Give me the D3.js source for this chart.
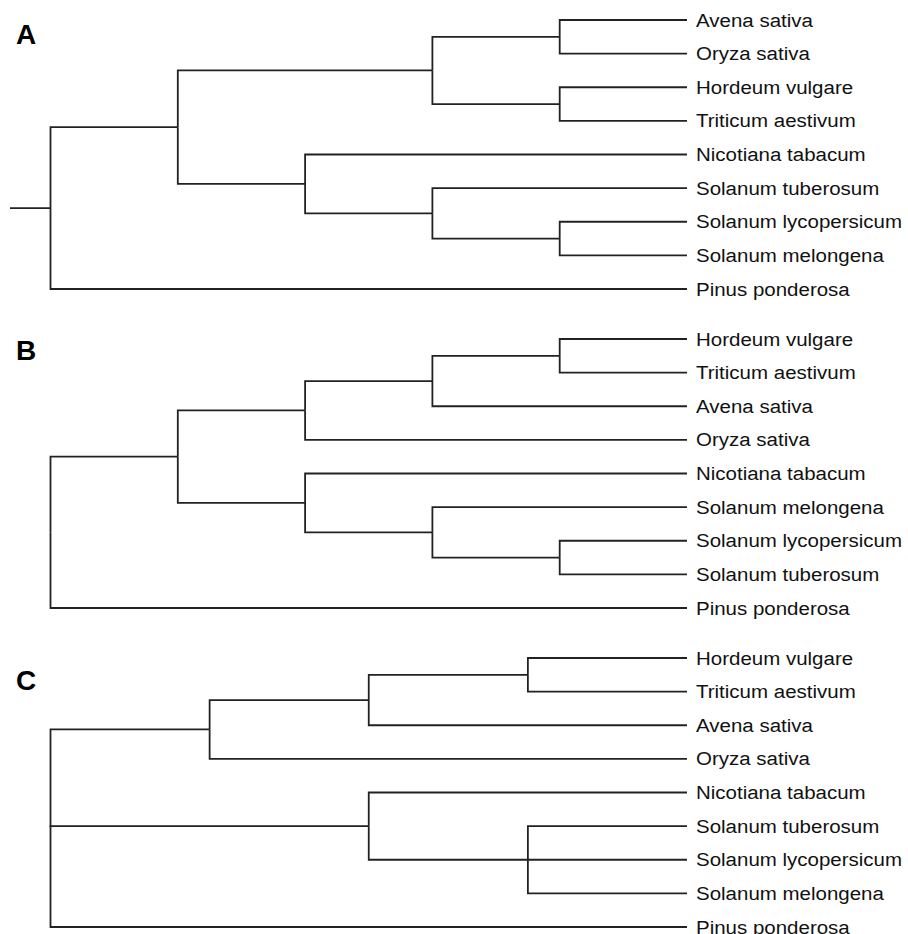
<!DOCTYPE html>
<html>
<head>
<meta charset="utf-8">
<script src="https://cdn.jsdelivr.net/npm/d3@7"></script>
<style>
  html, body { margin: 0; padding: 0; background: #fff; }
  svg { display: block; }
</style>
</head>
<body>
<svg id="chart" width="908" height="934"></svg>
<script>
// ---- Data: three cladograms (nested arrays = clades) ----
const panelLabels = ["A", "B", "C"];

const treeA = [
  [
    [["Avena sativa", "Oryza sativa"], ["Hordeum vulgare", "Triticum aestivum"]],
    ["Nicotiana tabacum", ["Solanum tuberosum", ["Solanum lycopersicum", "Solanum melongena"]]]
  ],
  "Pinus ponderosa"
];

const treeB = [
  [
    [[["Hordeum vulgare", "Triticum aestivum"], "Avena sativa"], "Oryza sativa"],
    ["Nicotiana tabacum", ["Solanum melongena", ["Solanum lycopersicum", "Solanum tuberosum"]]]
  ],
  "Pinus ponderosa"
];

const treeC = [
  [[["Hordeum vulgare", "Triticum aestivum"], "Avena sativa"], "Oryza sativa"],
  ["Nicotiana tabacum", ["Solanum tuberosum", "Solanum lycopersicum", "Solanum melongena"]],
  "Pinus ponderosa"
];

const trees = [treeA, treeB, treeC];
const hasRootStub = [true, false, false];

// ---- Layout ----
const svg = d3.select("#chart");
const panelTops = [20, 339, 658];      // y of first leaf in each panel
const letterY = [44, 360, 690];
const leafSpan = 269;                  // y distance first -> last leaf
const rootX = 50.5, leafX = 687, stubX = 10;
const labelX = 696;
const stroke = "#222";
const sw = 1.8;

trees.forEach((tree, i) => {
  const root = d3.hierarchy(tree, d => Array.isArray(d) ? d : null);
  const nLeaves = root.leaves().length;
  d3.cluster().size([nLeaves, 1]).separation(() => 1)(root);

  const yScale = d3.scaleLinear()
    .domain([0.5, nLeaves - 0.5])
    .range([panelTops[i], panelTops[i] + leafSpan]);
  const xScale = d3.scaleLinear().domain([0, 1]).range([rootX, leafX]);

  const g = svg.append("g");

  g.selectAll("path.link")
    .data(root.links())
    .join("path")
    .attr("class", "link")
    .attr("fill", "none")
    .attr("stroke", stroke)
    .attr("stroke-width", sw)
    .attr("d", l =>
      `M${xScale(l.source.y)},${yScale(l.source.x)}` +
      `V${yScale(l.target.x)}H${xScale(l.target.y)}`);

  if (hasRootStub[i]) {
    g.append("path")
      .attr("fill", "none")
      .attr("stroke", stroke)
      .attr("stroke-width", sw)
      .attr("d", `M${stubX},${yScale(root.x)}H${xScale(root.y)}`);
  }

  g.selectAll("text.leaf")
    .data(root.leaves())
    .join("text")
    .attr("class", "leaf")
    .attr("transform", d => `translate(${labelX},${yScale(d.x)}) scale(1.09,1)`)
    .attr("dy", "0.35em")
    .attr("font-family", "'Liberation Sans', Arial, sans-serif")
    .attr("font-size", 18.8)
    .attr("fill", "#111")
    .text(d => d.data);

  svg.append("text")
    .attr("x", 16)
    .attr("y", letterY[i])
    .attr("font-family", "'Liberation Sans', Arial, sans-serif")
    .attr("font-size", 28)
    .attr("font-weight", "bold")
    .attr("fill", "#000")
    .text(panelLabels[i]);
});
</script>
</body>
</html>
